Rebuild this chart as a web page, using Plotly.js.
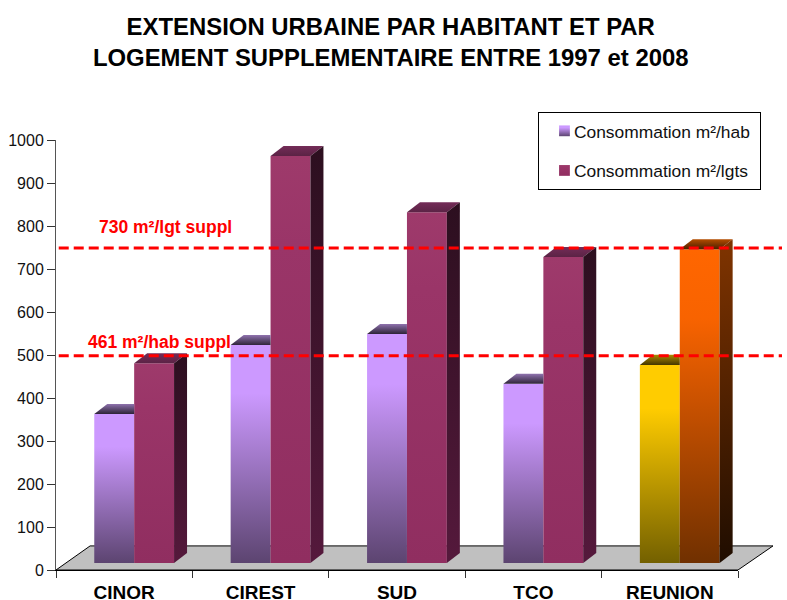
<!DOCTYPE html>
<html>
<head>
<meta charset="utf-8">
<script src="https://cdn.plot.ly/plotly-3.0.1.min.js"></script>
<style>html,body{margin:0;padding:0;background:#fff;overflow:hidden}</style>
</head>
<body>
<div id="chart" style="width:787px;height:600px"></div>
<script>
const categories = ['CINOR', 'CIREST', 'SUD', 'TCO', 'REUNION'];
const consoHab = [347, 507, 533, 417, 461];
const consoLgts = [465, 947, 816, 712, 730];
const seuilLgts = 749;
const seuilHab = 498;
const yTicks = [0, 100, 200, 300, 400, 500, 600, 700, 800, 900, 1000];

const FONT = 'Liberation Sans, Arial, sans-serif';
const BASE = 16, BAR_W = 0.2925, SHIFT = 0.073, DX = 0.0953, DY = 23.3;

const habFront = [['#CC99FF', '#CC99FF', '#5C4470'], ['#CC99FF', '#CC99FF', '#5C4470'], ['#CC99FF', '#CC99FF', '#5C4470'], ['#CC99FF', '#CC99FF', '#5C4470'], ['#FFCC00', '#FFCC00', '#736000']];
const lgtFront = [['#9E3A6B', '#9A3568', '#902E60'], ['#9E3A6B', '#9A3568', '#902E60'], ['#9E3A6B', '#9A3568', '#902E60'], ['#9E3A6B', '#9A3568', '#902E60'], ['#FF6600', '#F86300', '#703000']];
const habTop = [['#2E2438', '#8F72AE'], ['#2E2438', '#8F72AE'], ['#2E2438', '#8F72AE'], ['#2E2438', '#8F72AE'], ['#453700', '#AC8A00']];
const lgtTop = [['#5B2345', '#742C58'], ['#5B2345', '#742C58'], ['#5B2345', '#742C58'], ['#5B2345', '#742C58'], ['#4A1F00', '#B54D00']];
const lgtSide = [['#55193C', '#2C0F1F'], ['#55193C', '#2C0F1F'], ['#55193C', '#2C0F1F'], ['#55193C', '#2C0F1F'], ['#1F0D00', '#803400']];

function bar(name, vals, offset, colors) {
  return {
    type: 'bar', name, x: categories, y: vals, base: BASE, width: BAR_W, offset,
    legendgroup: name, cliponaxis: false,
    marker: {color: colors.map(c => c[0]), line: {width: 0}},
    hovertemplate: '%{x}: %{y}<extra>' + name + '</extra>'
  };
}
function face(xs, ys, cols) {
  return {
    type: 'scatter', xaxis: 'x2', yaxis: 'y', mode: 'lines', x: xs, y: ys, fill: 'toself', line: {width: 0, color: 'rgba(0,0,0,0)'},
    fillgradient: {type: 'vertical', colorscale: [[0, cols[0]], [1, cols[1]]]},
    showlegend: false, hoverinfo: 'skip', cliponaxis: false
  };
}

const traces = [bar('Consommation m²/hab', consoHab, SHIFT - BAR_W, habFront), bar('Consommation m²/lgts', consoLgts, SHIFT, lgtFront)];
categories.forEach((c, i) => {
  const h = BASE + consoHab[i], l = BASE + consoLgts[i];
  const a = i + SHIFT - BAR_W, m = i + SHIFT, b = i + SHIFT + BAR_W;
  traces.push(face([a, a + DX, m, m, a], [h, h + DY, h + DY, h, h], habTop[i]));
  traces.push(face([m, m + DX, b + DX, b, m], [l, l + DY, l + DY, l, l], lgtTop[i]));
  traces.push(face([b, b + DX, b + DX, b, b], [BASE, BASE + DY, l + DY, l, BASE], lgtSide[i]));
});

const layout = {
  width: 787, height: 600,
  margin: {l: 56, r: 49, t: 140, b: 30, pad: 0},
  paper_bgcolor: '#fff', plot_bgcolor: 'rgba(0,0,0,0)',
  font: {family: FONT, color: '#000'},
  title: {text: 'EXTENSION URBAINE PAR HABITANT ET PAR<br>LOGEMENT SUPPLEMENTAIRE ENTRE 1997 et 2008',
    font: {family: FONT, size: 23.9, color: '#000', weight: 'bold'}, x: 0.4965, xanchor: 'center', y: 0.942, yanchor: 'top'},
  barmode: 'overlay',
  xaxis: {type: 'category', categoryorder: 'array', categoryarray: categories, range: [-0.5, 4.5], fixedrange: true,
    tickson: 'boundaries', ticks: 'outside', ticklen: 7, tickcolor: '#333', tickwidth: 1,
    showline: true, linecolor: '#000', linewidth: 1, showgrid: false, zeroline: false,
    tickfont: {family: FONT, size: 19, color: '#000', weight: 'bold'}, ticklabelstandoff: 5},
  xaxis2: {overlaying: 'x', range: [-0.5, 4.5], visible: false, fixedrange: true},
  yaxis: {range: [0, 1000], tickvals: yTicks, fixedrange: true, ticks: 'outside', ticklen: 8, tickcolor: '#333', tickwidth: 1,
    showline: true, linecolor: '#555', linewidth: 1, showgrid: false, zeroline: false,
    tickfont: {family: FONT, size: 16, color: '#111'}, ticklabelstandoff: 0},
  shapes: [
    {type: 'path', layer: 'below', xref: 'paper', yref: 'y', path: 'M 0 0 L 1 0 L 1.0513 56 L 0.05 56 Z',
      fillcolor: '#C0C0C0', line: {color: '#000', width: 1}},
    {type: 'line', layer: 'above', xref: 'paper', yref: 'y', x0: 0.004, x1: 1.0645, y0: seuilLgts, y1: seuilLgts, line: {color: '#FF0000', width: 3, dash: '10px,5px'}},
    {type: 'line', layer: 'above', xref: 'paper', yref: 'y', x0: 0.004, x1: 1.0645, y0: seuilHab, y1: seuilHab, line: {color: '#FF0000', width: 3, dash: '10px,5px'}}
  ],
  annotations: [
    {xref: 'paper', yref: 'paper', x: 0.0601, y: 0.7977, xanchor: 'left', yanchor: 'middle', showarrow: false, text: '730 m²/lgt suppl',
      font: {family: FONT, size: 17.5, color: '#FF0000', weight: 'bold'}},
    {xref: 'paper', yref: 'paper', x: 0.0440, y: 0.5302, xanchor: 'left', yanchor: 'middle', showarrow: false, text: '461 m²/hab suppl',
      font: {family: FONT, size: 17.5, color: '#FF0000', weight: 'bold'}}
  ],
  legend: {x: 0.7067, y: 1.0651, xanchor: 'left', yanchor: 'top', bgcolor: '#fff', bordercolor: '#000', borderwidth: 1,
    font: {family: FONT, size: 17.4, color: '#111'}, tracegroupgap: 14, entrywidth: 228, entrywidthmode: 'pixels', traceorder: 'grouped', itemclick: false, itemdoubleclick: false}
};

function addGradient(defs, id, stops) {
  const NS = 'http://www.w3.org/2000/svg';
  const g = document.createElementNS(NS, 'linearGradient');
  g.setAttribute('id', id);
  g.setAttribute('x1', '0'); g.setAttribute('y1', '0'); g.setAttribute('x2', '0'); g.setAttribute('y2', '1');
  const offs = stops.length === 3 ? [0, 0.22, 1] : [0, 1];
  stops.forEach((c, k) => {
    const s = document.createElementNS(NS, 'stop');
    s.setAttribute('offset', offs[k]);
    s.setAttribute('stop-color', c);
    g.appendChild(s);
  });
  defs.appendChild(g);
}

Plotly.newPlot('chart', traces, layout, {displayModeBar: false}).then(gd => {
  const svg = gd.querySelector('svg.main-svg');
  const defs = svg.querySelector('defs');
  const sets = [habFront, lgtFront];
  gd.querySelectorAll('.barlayer .trace').forEach((tr, t) => {
    tr.querySelectorAll('.point path').forEach((p, i) => {
      const id = 'frontgrad' + t + '_' + i;
      addGradient(defs, id, sets[t][i]);
      p.style.fill = 'url(#' + id + ')';
    });
  });
  gd.querySelectorAll('.legend .traces').forEach((tr, t) => {
    const p = tr.querySelector('.legendbar path, .legendpoints path');
    if (p && sets[t]) {
      p.style.fill = 'url(#frontgrad' + t + '_0)';
      p.setAttribute('transform', 'translate(25.5,0) scale(0.9)');
    }
    const txt = tr.querySelector('.legendtext');
    if (txt) txt.setAttribute('x', parseFloat(txt.getAttribute('x')) - 5);
  });
});
</script>
</body>
</html>
